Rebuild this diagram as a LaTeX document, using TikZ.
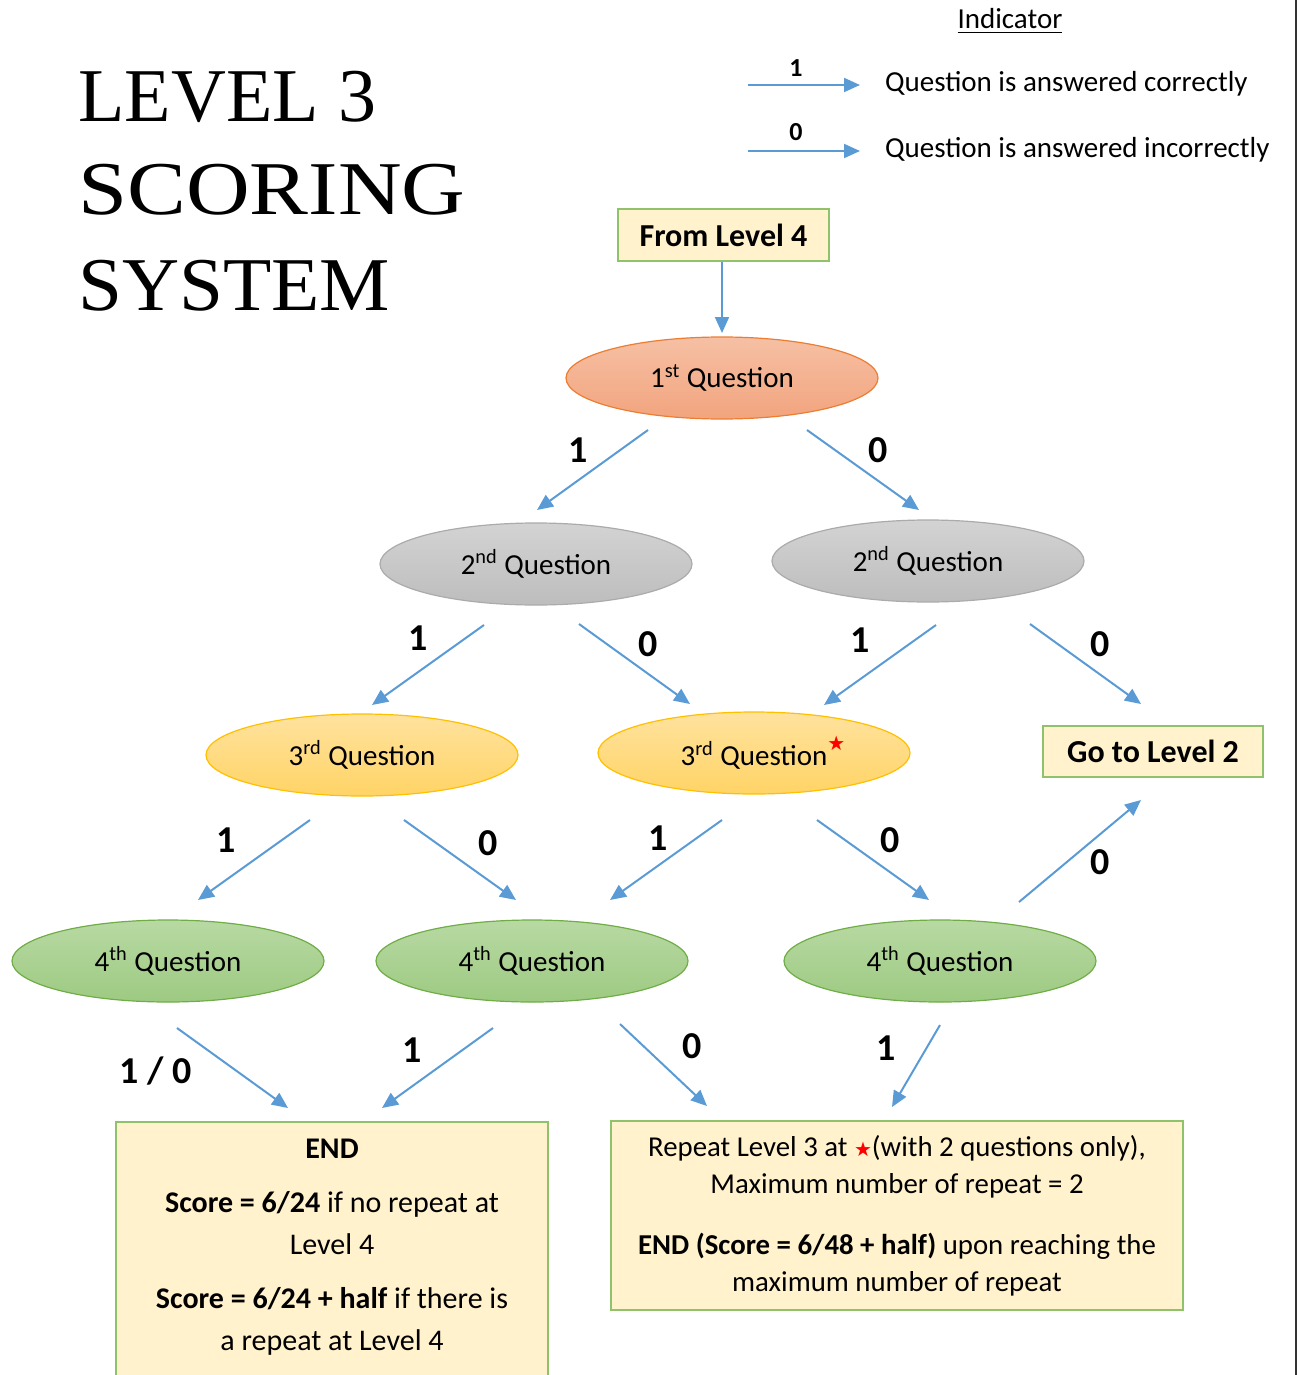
\documentclass[tikz,border=0pt]{standalone}
\usepackage{fontspec}
\setmainfont{Carlito}
\newfontfamily\titlefont{Liberation Serif}
\newfontfamily\symfont{DejaVu Sans}
\usetikzlibrary{shapes.geometric,arrows.meta}
\definecolor{arrblue}{HTML}{5B9BD5}
\definecolor{boxfill}{HTML}{FFF2CC}
\definecolor{boxline}{HTML}{8FC36B}
\definecolor{qonetop}{HTML}{F6C0A4}
\definecolor{qonebot}{HTML}{F2A47E}
\definecolor{qoneline}{HTML}{ED7D31}
\definecolor{qtwotop}{HTML}{D3D3D3}
\definecolor{qtwobot}{HTML}{BDBDBD}
\definecolor{qtwoline}{HTML}{ABABAB}
\definecolor{qthreetop}{HTML}{FFE29E}
\definecolor{qthreebot}{HTML}{FFD466}
\definecolor{qthreeline}{HTML}{FFC000}
\definecolor{qfourtop}{HTML}{B8D9A3}
\definecolor{qfourbot}{HTML}{9DCA82}
\definecolor{qfourline}{HTML}{70AD47}
\newcommand{\redstar}{{\symfont\fontsize{10}{10}\selectfont\color{red}★}}
\tikzset{
  arr/.style={draw=arrblue, line width=1pt, -{Triangle[length=8pt,width=7pt]}},
  qbase/.style={ellipse, minimum width=156pt, minimum height=41pt, inner sep=0pt, line width=0.6pt, font=\fontsize{14.5}{16}\selectfont},
  qone/.style={qbase, draw=qoneline, top color=qonetop, bottom color=qonebot},
  qtwo/.style={qbase, draw=qtwoline, top color=qtwotop, bottom color=qtwobot},
  qthree/.style={qbase, draw=qthreeline, top color=qthreetop, bottom color=qthreebot},
  qfour/.style={qbase, draw=qfourline, top color=qfourtop, bottom color=qfourbot},
  flowbox/.style={rectangle, draw=boxline, fill=boxfill, line width=1pt, inner sep=0pt},
  lbl/.style={font=\bfseries\fontsize{19}{20}\selectfont},
  leglbl/.style={font=\bfseries\fontsize{13}{14}\selectfont},
  legtxt/.style={font=\fontsize{14.5}{16}\selectfont, anchor=west},
  ttl/.style={font=\titlefont\fontsize{38}{44}\selectfont, anchor=base west, inner sep=0pt},
}
\begin{document}
\begin{tikzpicture}[x=0.5pt,y=-0.5pt]
\useasboundingbox (0,0) rectangle (1297,1375);
\clip (0,0) rectangle (1297,1375);
% right border line
\draw[line width=1pt, black!80] (1296,0) -- (1296,1375);
% title
\node[ttl] (t1) at (78,122) {LEVEL 3};
\node[ttl] (t2) at (78,215) {\scalebox{1.16}[1]{SCORING}};
\node[ttl] (t3) at (78,310) {\scalebox{1.04}[1]{SYSTEM}};
% legend
\node[font=\fontsize{14.5}{16}\selectfont] (ind) at (1010,21) {\underline{Indicator}};
\coordinate (l1s) at (748,85); \coordinate (l1e) at (860,85);
\coordinate (l2s) at (748,151); \coordinate (l2e) at (860,151);
\draw[arr] (l1s) -- (l1e);
\draw[arr] (l2s) -- (l2e);
\node[leglbl] (lg1) at (796,68) {1};
\node[leglbl] (lg0) at (796,132) {0};
\node[legtxt] (lt1) at (878,84) {Question is answered correctly};
\node[legtxt] (lt0) at (878,150) {Question is answered incorrectly};
% boxes
\node[flowbox, minimum width=105.5pt, minimum height=26pt, font=\bfseries\fontsize{16}{18}\selectfont] (from) at (723.5,235) {From Level 4};
\node[flowbox, minimum width=110pt, minimum height=25.5pt, font=\bfseries\fontsize{16}{18}\selectfont] (go2) at (1153,751.5) {Go to Level 2};
% ellipses
\node[qone] (q1) at (722,378) {1\textsuperscript{st} Question};
\node[qtwo] (q2a) at (536,564) {2\textsuperscript{nd} Question};
\node[qtwo] (q2b) at (928,561) {2\textsuperscript{nd} Question};
\node[qthree] (q3a) at (362,755) {3\textsuperscript{rd} Question};
\node[qthree] (q3b) at (754,753) {3\textsuperscript{rd} Question\rlap{\raisebox{1.1ex}{\redstar}}};
\node[qfour] (q4a) at (168,961) {4\textsuperscript{th} Question};
\node[qfour] (q4b) at (532,961) {4\textsuperscript{th} Question};
\node[qfour] (q4c) at (940,961) {4\textsuperscript{th} Question};
% end boxes
\node[flowbox, minimum width=216pt, minimum height=145pt, anchor=north] (endbox) at (332,1121) {};
\node[align=center, anchor=north, inner sep=0pt, font=\fontsize{15}{21}\selectfont] (endtxt) at (332,1139)
 {\textbf{END}\\[6pt]
  \textbf{Score = 6/24} if no repeat at\\
  Level 4\\[6pt]
  \textbf{Score = 6/24 + half} if there is\\
  a repeat at Level 4};
\node[flowbox, minimum width=286pt, minimum height=94.5pt, align=center, font=\fontsize{14.4}{18.5}\selectfont] (repbox) at (897,1215.5)
 {Repeat Level 3 at \redstar(with 2 questions only),\\
  Maximum number of repeat = 2\\[12pt]
  \textbf{END (Score = 6/48 + half)} upon reaching the\\
  maximum number of repeat};
% connector coordinates
\coordinate (a0s) at (722,262);  \coordinate (a0e) at (722,333);
\coordinate (a1s) at (648,430);  \coordinate (a1e) at (537,510);
\coordinate (a2s) at (807,430);  \coordinate (a2e) at (919,510);
\coordinate (a3s) at (484,625);  \coordinate (a3e) at (372,705);
\coordinate (a4s) at (579,624);  \coordinate (a4e) at (690,704);
\coordinate (a5s) at (936,625);  \coordinate (a5e) at (824,705);
\coordinate (a6s) at (1030,624); \coordinate (a6e) at (1141,704);
\coordinate (a7s) at (310,820);  \coordinate (a7e) at (198,900);
\coordinate (a8s) at (404,820);  \coordinate (a8e) at (516,900);
\coordinate (a9s) at (722,820);  \coordinate (a9e) at (610,900);
\coordinate (a10s) at (817,820); \coordinate (a10e) at (929,900);
\coordinate (a11s) at (1019,902); \coordinate (a11e) at (1141,800);
\coordinate (a12s) at (177,1028); \coordinate (a12e) at (288,1108);
\coordinate (a13s) at (493,1028); \coordinate (a13e) at (382,1108);
\coordinate (a14s) at (620,1024); \coordinate (a14e) at (707,1106);
\coordinate (a15s) at (940,1025); \coordinate (a15e) at (892,1107);
% connectors
\draw[arr] (a0s) -- (a0e);
\draw[arr] (a1s) -- (a1e);
\draw[arr] (a2s) -- (a2e);
\draw[arr] (a3s) -- (a3e);
\draw[arr] (a4s) -- (a4e);
\draw[arr] (a5s) -- (a5e);
\draw[arr] (a6s) -- (a6e);
\draw[arr] (a7s) -- (a7e);
\draw[arr] (a8s) -- (a8e);
\draw[arr] (a9s) -- (a9e);
\draw[arr] (a10s) -- (a10e);
\draw[arr] (a11s) -- (a11e);
\draw[arr] (a12s) -- (a12e);
\draw[arr] (a13s) -- (a13e);
\draw[arr] (a14s) -- (a14e);
\draw[arr] (a15s) -- (a15e);
% connector labels
\node[lbl] (b1) at (578,450) {1};
\node[lbl] (b2) at (878,450) {0};
\node[lbl] (b3) at (418,638) {1};
\node[lbl] (b4) at (648,644) {0};
\node[lbl] (b5) at (860,640) {1};
\node[lbl] (b6) at (1100,644) {0};
\node[lbl] (b7) at (226,840) {1};
\node[lbl] (b8) at (488,843) {0};
\node[lbl] (b9) at (658,838) {1};
\node[lbl] (b10) at (890,840) {0};
\node[lbl] (b11) at (1100,862) {0};
\node[lbl] (b12) at (156,1071) {1 / 0};
\node[lbl] (b13) at (412,1050) {1};
\node[lbl] (b14) at (692,1046) {0};
\node[lbl] (b15) at (886,1048) {1};
\end{tikzpicture}
\end{document}
